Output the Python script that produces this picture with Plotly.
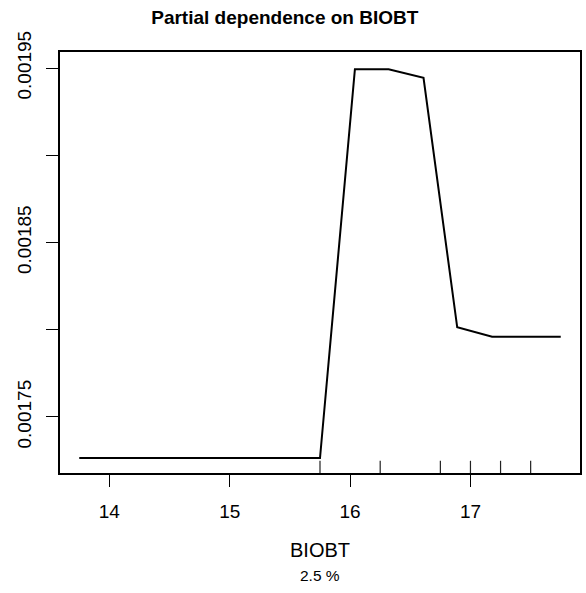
import plotly.graph_objects as go

# partial dependence grid (BIOBT) and fitted values
biobt = [13.75, 14.04, 14.32, 14.61, 14.89, 15.18, 15.46, 15.75,
         16.04, 16.32, 16.61, 16.89, 17.18, 17.46, 17.75]
pdep = [0.0017265, 0.0017265, 0.0017265, 0.0017265, 0.0017265, 0.0017265, 0.0017265, 0.0017265,
        0.0019493, 0.0019493, 0.0019444, 0.0018014, 0.0017960, 0.0017960, 0.0017960]

# deciles of BIOBT shown as a rug
deciles = [15.75, 16.25, 16.75, 17.0, 17.25, 17.5]

x_ticks = [14, 15, 16, 17]
y_ticks = [0.00175, 0.0018, 0.00185, 0.0019, 0.00195]
y_tick_text = ["0.00175", "", "0.00185", "", "0.00195"]

FONT = "Liberation Sans, Arial, Helvetica, sans-serif"

fig = go.Figure()
fig.add_trace(go.Scatter(
    x=biobt,
    y=pdep,
    mode="lines",
    line=dict(color="black", width=2),
    hoverinfo="skip",
    showlegend=False
))

for d in deciles:
    fig.add_shape(
        type="line",
        xref="x", yref="y domain",
        x0=d, x1=d, y0=0, y1=0.029,
        line=dict(color="#222222", width=1.2)
    )

fig.add_annotation(
    text="2.5 %",
    xref="paper", yref="paper",
    x=0.5, y=-0.268,
    showarrow=False,
    font=dict(family=FONT, size=15.5, color="black")
)

fig.update_layout(
    width=586,
    height=593,
    paper_bgcolor="white",
    plot_bgcolor="white",
    margin=dict(l=60, r=4, t=52, b=120),
    font=dict(family=FONT, color="black"),
    title=dict(
        text="<b>Partial dependence on BIOBT</b>",
        xref="container", x=0.486, xanchor="center",
        yref="container", y=0.971, yanchor="middle",
        font=dict(family=FONT, size=19, color="black")
    ),
    xaxis=dict(
        range=[13.59, 17.91],
        tickvals=x_ticks,
        ticks="outside", ticklen=12, tickwidth=1.3, tickcolor="black",
        ticklabelstandoff=8,
        showline=True, linecolor="black", linewidth=1.5, mirror=True,
        showgrid=False, zeroline=False,
        tickfont=dict(family=FONT, size=19, color="black"),
        title=dict(text="BIOBT", font=dict(family=FONT, size=20, color="black"), standoff=22)
    ),
    yaxis=dict(
        range=[0.0017179, 0.0019592],
        tickvals=y_ticks,
        ticktext=y_tick_text,
        tickangle=-90,
        ticks="outside", ticklen=12, tickwidth=1.3, tickcolor="black",
        ticklabelstandoff=8,
        showline=True, linecolor="black", linewidth=1.5, mirror=True,
        showgrid=False, zeroline=False,
        tickfont=dict(family=FONT, size=19, color="black")
    )
)

# drop the browser's default body margin so the figure sits at the page corner
fig.write_html(
    "out.html",
    config={"displayModeBar": False},
    post_script="document.body.style.margin = '0';"
)
